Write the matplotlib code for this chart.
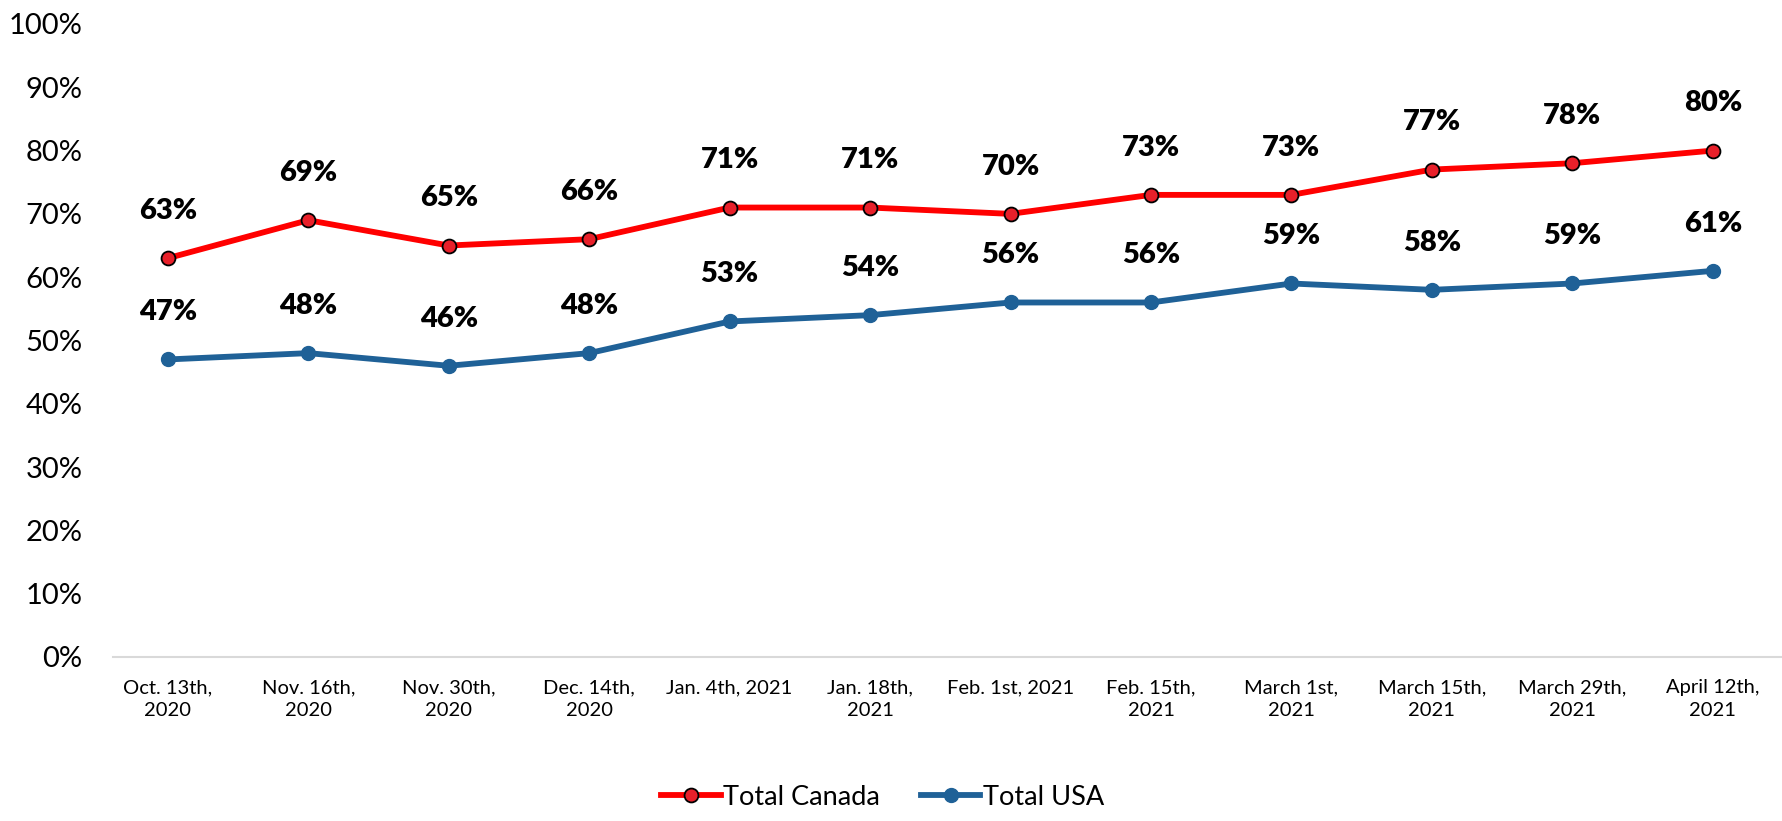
"""Line chart: share by survey date, Canada vs USA."""
import matplotlib
matplotlib.use("Agg")
import matplotlib.pyplot as plt
from matplotlib.ticker import FuncFormatter

plt.rcParams["font.family"] = ["Lato", "DejaVu Sans"]

dates = ["Oct. 13th,\n2020", "Nov. 16th,\n2020", "Nov. 30th,\n2020", "Dec. 14th,\n2020",
         "Jan. 4th, 2021", "Jan. 18th,\n2021", "Feb. 1st, 2021", "Feb. 15th,\n2021",
         "March 1st,\n2021", "March 15th,\n2021", "March 29th,\n2021", "April 12th,\n2021"]
canada = [63, 69, 65, 66, 71, 71, 70, 73, 73, 77, 78, 80]
usa = [47, 48, 46, 48, 53, 54, 56, 56, 59, 58, 59, 61]

fig = plt.figure(figsize=(17.83, 8.21), dpi=100)
ax = fig.add_axes([0.0634, 0.1998, 0.9366, 0.771])
x = list(range(len(dates)))

ax.plot(x, canada, color="#FF0000", lw=4.2, marker="o", ms=10,
        mfc="#E8202A", mec="black", mew=1.3, label="Total Canada", zorder=3)
ax.plot(x, usa, color="#1F6197", lw=4.2, marker="o", ms=10,
        mfc="#1F6197", mec="#1F6197", label="Total USA", zorder=3)

for xs, ys in ((x, canada), (x, usa)):
    for xi, yi in zip(xs, ys):
        ax.annotate(f"{yi}%", (xi, yi), xytext=(0, 34), textcoords="offset points",
                    ha="center", va="center", fontsize=21, fontweight="heavy")

ax.set_xlim(-0.39, 11.5)
ax.set_ylim(0, 100)
ax.set_yticks(range(0, 101, 10))
ax.yaxis.set_major_formatter(FuncFormatter(lambda v, _: f"{v:.0f}%"))
ax.set_xticks(x)
ax.set_xticklabels(dates, fontsize=14.5, linespacing=1.45)
ax.tick_params(axis="y", labelsize=21, length=0, pad=22)
ax.tick_params(axis="x", length=0, pad=16)
for s in ("top", "right", "left"):
    ax.spines[s].set_visible(False)
ax.spines["bottom"].set_color("#D9D9D9")
ax.spines["bottom"].set_linewidth(1.5)

fig.legend(loc="lower center", bbox_to_anchor=(0.495, -0.016), ncol=2, frameon=False,
           fontsize=19.5, handlelength=2.2, handletextpad=0.1, columnspacing=1.5)

fig.savefig("out.png", dpi=100)
